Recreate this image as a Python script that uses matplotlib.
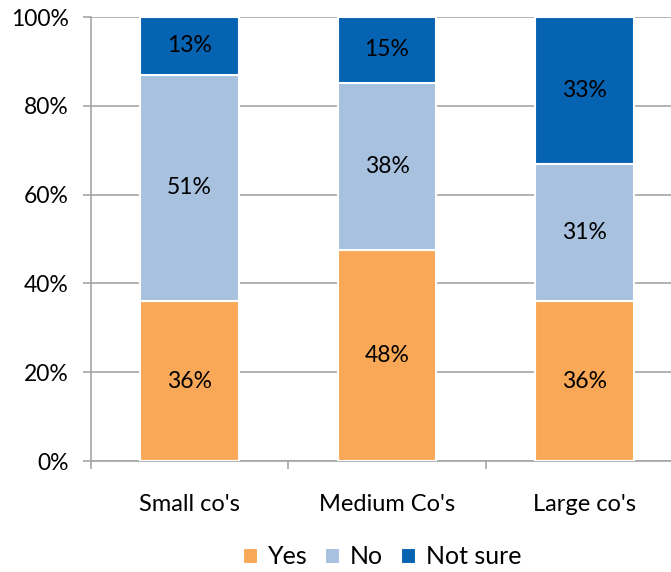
import matplotlib.pyplot as plt
import numpy as np

plt.rcParams['font.family'] = ['Lato', 'DejaVu Sans']

categories = ["Small co's", "Medium Co's", "Large co's"]
series = ["Yes", "No", "Not sure"]
yes = [36, 48, 36]
no = [51, 38, 31]
not_sure = [13, 15, 33]
colors = ["#F9A857", "#A7C1DF", "#0563B2"]

raw = np.array([yes, no, not_sure], dtype=float)
share = raw / raw.sum(axis=0) * 100

fig = plt.figure(figsize=(6.71, 5.72), dpi=100)
ax = fig.add_axes([91 / 671, 111 / 572, 592 / 671, 444 / 572])

x = np.arange(len(categories))
bottom = np.zeros(len(categories))
for i, name in enumerate(series):
    ax.bar(x, share[i], width=0.5, bottom=bottom, color=colors[i],
           edgecolor="white", linewidth=1.5, label=name, zorder=3)
    for j in range(len(categories)):
        ax.text(x[j], bottom[j] + share[i][j] / 2, "%d%%" % raw[i][j],
                ha="center", va="center", fontsize=16.5, color="black", zorder=4)
    bottom += share[i]

ax.set_xlim(-0.5, len(categories) - 0.5)
ax.set_ylim(0, 100)
ax.set_yticks(np.arange(0, 101, 20))
ax.set_yticklabels(["%d%%" % v for v in range(0, 101, 20)], fontsize=16.5)
ax.yaxis.grid(True, color="#a6a6a6", linewidth=1.2, zorder=0)

ax.set_xticks(x)
ax.set_xticklabels(categories, fontsize=17)
ax.set_xticks(np.arange(-0.5, len(categories)), minor=True)
ax.tick_params(axis="x", which="major", length=0, pad=24)
ax.tick_params(axis="x", which="minor", length=6, color="#a6a6a6", width=1.2)
ax.tick_params(axis="y", length=6, color="#a6a6a6", width=1.2, pad=10)

for side in ["top", "right"]:
    ax.spines[side].set_visible(False)
for side in ["left", "bottom"]:
    ax.spines[side].set_color("#a6a6a6")
    ax.spines[side].set_linewidth(1.2)

fig.legend(loc="center", bbox_to_anchor=(382 / 671, 1 - 557 / 572), ncol=3,
           frameon=False, fontsize=18, handlelength=0.6, handleheight=0.6,
           handletextpad=0.4, columnspacing=0.7)

fig.savefig("out.png", dpi=100)
